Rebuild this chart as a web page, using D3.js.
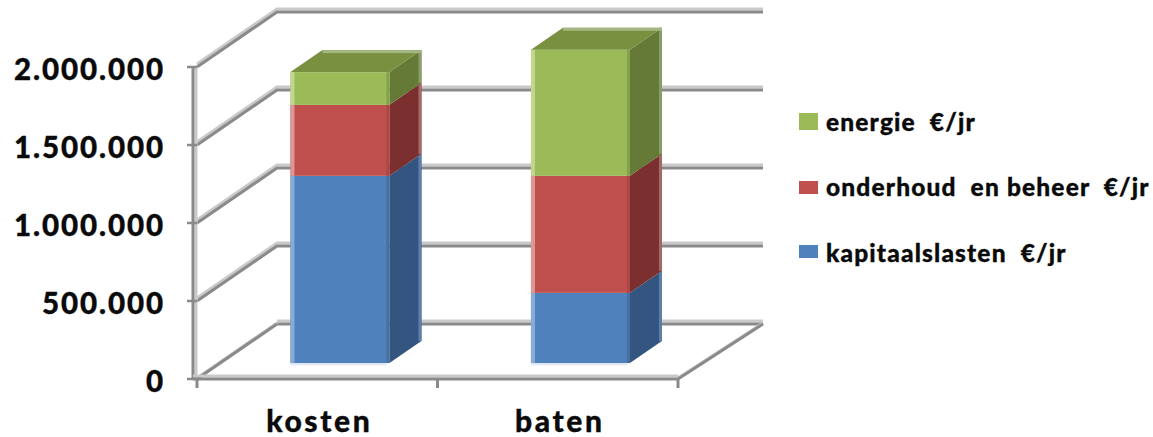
<!DOCTYPE html>
<html><head><meta charset="utf-8">
<script src="https://cdn.jsdelivr.net/npm/d3@7/dist/d3.min.js"></script>
<style>
html,body{margin:0;padding:0;background:#fff}
svg{display:block}
text{font-family:Lato,"Open Sans",sans-serif;font-weight:900;fill:#0a0a0a;stroke:#0a0a0a;stroke-width:0.35px;white-space:pre}
</style></head><body>
<svg id="chart" width="1153" height="437"></svg>
<script>
// Stacked 3-D column chart: yearly costs and benefits
const categories = ["kosten", "baten"];
const seriesNames = ["kapitaalslasten  €/jr", "onderhoud  en beheer  €/jr", "energie  €/jr"];
const kapitaalslasten = [1200000, 450000];
const onderhoud = [455000, 750000];
const energie = [210000, 808000];
const yTicks = [0, 500000, 1000000, 1500000, 2000000];
const yTickLabels = ["0", "500.000", "1.000.000", "1.500.000", "2.000.000"];
const seriesKeys = ["kapitaal", "onderhoud", "energie"];

const faces = {
  kapitaal:  {front:"#4f81bd", side:"#33557f", left:"#8aabd6", right:"#47709f", sideEdge:"#5f7fa8"},
  onderhoud: {front:"#c0504d", side:"#7b302f", left:"#dc9896", right:"#a94846", sideEdge:"#a26a69"},
  energie:   {front:"#9bbb59", side:"#647a36", left:"#c2d690", right:"#87a04f", sideEdge:"#8a9c68"}
};

const svg = d3.select("#chart");
const y = d3.scaleLinear().domain([0, 2000000]).range([379, 67]);
const x = d3.scaleBand().domain(categories).range([197, 678]);
// Oblique depth: z runs 0 (front of the box) to 1 (back wall)
const depthX = d3.scaleLinear().domain([0, 1]).range([0, 80]);
const depthY = d3.scaleLinear().domain([0, 1]).range([0, -55]);
const pt = (px, v, z) => [px + depthX(z), y(v) + depthY(z)];
const path = d3.line();
const poly = pts => path(pts) + "Z";

const wall = svg.append("g").attr("fill", "none");
const [x0, x1] = x.range();
function doubleLine(pts, offset) {
  wall.append("path").attr("d", path(pts.map(p => [p[0] + offset[0], p[1] + offset[1]])))
    .attr("stroke", "#c9c9c9").attr("stroke-width", 3);
  wall.append("path").attr("d", path(pts)).attr("stroke", "#8a8a8a").attr("stroke-width", 3);
}
// Back-wall gridlines with their slanted return along the left wall
yTicks.forEach(t => {
  if (t > 0) doubleLine([pt(x0, t, 0), pt(x0, t, 1), pt(x1 + 5, t, 1)], [0, -3]);
  else doubleLine([pt(x0, t, 1), pt(x1 + 5, t, 1)], [0, -3]);
});
// Floor outline and front axes
doubleLine([pt(x0, 0, 0), pt(x0, 0, 1)], [0, -1]);
doubleLine([pt(x1, 0, 0), pt(x1 + 5, 0, 1)], [0, -1]);
doubleLine([[x0 - 4, y(2000000)], [x0 - 4, y(0)]], [3, 0]);
doubleLine([[x0 - 4, y(0)], [x1, y(0)]], [0, -3]);
yTicks.forEach(t => wall.append("path").attr("d", path([[x0 - 10, y(t)], [x0, y(t)]]))
  .attr("stroke", "#8a8a8a").attr("stroke-width", 2.5));
[x0, x(categories[1]), x1].forEach(p => wall.append("path").attr("d", path([[p, y(0)], [p, y(0) + 9]]))
  .attr("stroke", "#8a8a8a").attr("stroke-width", 3));

// Columns
const table = categories.map((c, i) => ({cat: c, kapitaal: kapitaalslasten[i], onderhoud: onderhoud[i], energie: energie[i]}));
const stacked = d3.stack().keys(seriesKeys)(table);
const zFront = 0.29, zBack = 0.69, barW = 99;
const bars = svg.append("g");
categories.forEach((c, i) => {
  const bx = x(c) + x.bandwidth() / 2 - barW / 2 - 0.5;
  const g = bars.append("g");
  const base = stacked[0][i][0];
  const pf = pt(bx, base, zFront);
  g.append("rect").attr("x", pf[0]).attr("y", pf[1]).attr("width", barW - 3).attr("height", 2.5).attr("fill", "#e4ebf6");
  stacked.forEach(layer => {
    const [v0, v1] = layer[i];
    const f = faces[layer.key];
    g.append("path").attr("fill", f.side).attr("d", poly([
      pt(bx + barW, v0, zFront), pt(bx + barW, v0, zBack), pt(bx + barW, v1, zBack), pt(bx + barW, v1, zFront)]));
    const a = pt(bx, v1, zFront), b = pt(bx + barW, v0, zFront);
    g.append("rect").attr("x", a[0]).attr("y", a[1]).attr("width", barW).attr("height", b[1] - a[1]).attr("fill", f.front);
    g.append("rect").attr("x", a[0]).attr("y", a[1]).attr("width", 4).attr("height", b[1] - a[1]).attr("fill", f.left);
    g.append("rect").attr("x", b[0] - 3).attr("y", a[1]).attr("width", 3).attr("height", b[1] - a[1]).attr("fill", f.right);
    const e = pt(bx + barW, v1, zBack), e0 = pt(bx + barW, v0, zBack);
    g.append("rect").attr("x", e[0] - 3).attr("y", e[1]).attr("width", 3).attr("height", e0[1] - e[1]).attr("fill", f.sideEdge);
  });
  const top = stacked[2][i][1];
  g.append("path").attr("fill", "#78903f").attr("d", poly([
    pt(bx, top, zFront), pt(bx, top, zBack), pt(bx + barW, top, zBack), pt(bx + barW, top, zFront)]));
  const tb = pt(bx, top, zBack);
  g.append("rect").attr("x", tb[0]).attr("y", tb[1]).attr("width", barW).attr("height", 3).attr("fill", "#a5b783");
});

// Axis labels
const yLabels = svg.append("g").attr("text-anchor", "end").style("font-size", "29.5px").style("letter-spacing", "1.9px");
yTicks.forEach((t, i) => yLabels.append("text").attr("x", 165).attr("y", y(t) + 13).text(yTickLabels[i]));
const xLabels = svg.append("g").attr("text-anchor", "middle").style("font-size", "30px").style("letter-spacing", "2.6px");
categories.forEach(c => xLabels.append("text").attr("x", x(c) + x.bandwidth() / 2 + 2).attr("y", 431.5).text(c));

// Legend, drawn top to bottom in reverse stack order
const legendRows = [
  {key: "energie", y: 113, h: 17, base: 131, label: seriesNames[2]},
  {key: "onderhoud", y: 181, h: 13, base: 196, label: seriesNames[1]},
  {key: "kapitaal", y: 245, h: 13, base: 262, label: seriesNames[0]}
];
const legend = svg.append("g");
legendRows.forEach(r => {
  legend.append("rect").attr("x", 799).attr("y", r.y).attr("width", 19).attr("height", r.h).attr("fill", faces[r.key].front);
  legend.append("text").attr("x", 826).attr("y", r.base).style("font-size", "24.5px").style("letter-spacing", "1.15px").text(r.label);
});
</script>
</body></html>
